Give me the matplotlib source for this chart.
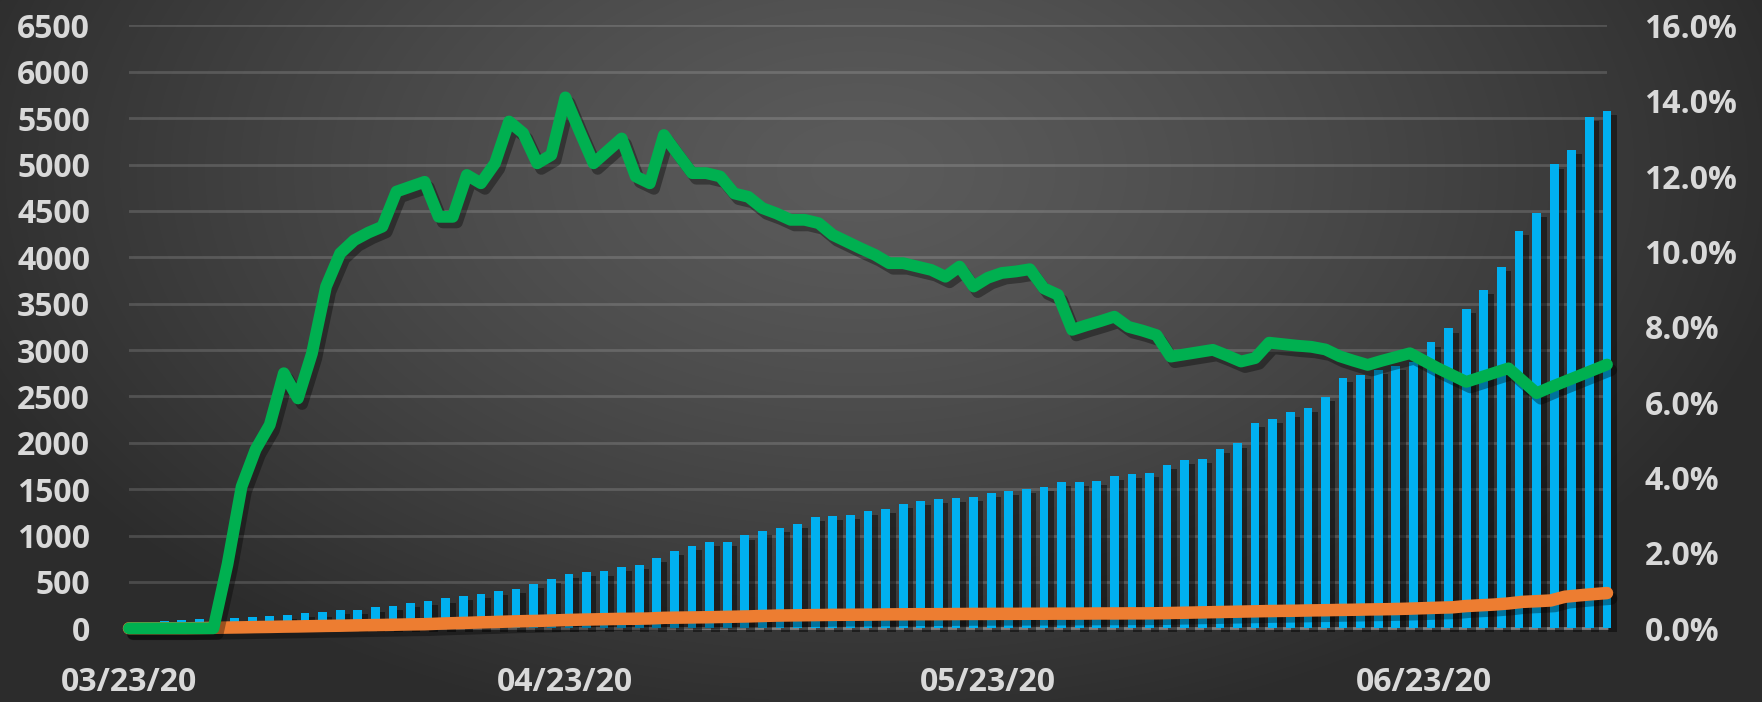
import numpy as np
import pandas as pd
import matplotlib
matplotlib.use('Agg')
import matplotlib.pyplot as plt
import matplotlib.dates as mdates
import matplotlib.patheffects as pe
from matplotlib.ticker import FuncFormatter, MultipleLocator

plt.rcParams['font.family'] = ['Open Sans', 'DejaVu Sans']
plt.rcParams['font.weight'] = 'bold'

# data
start_date = '2020-03-23'
tick_dates = ['2020-03-23', '2020-04-23', '2020-05-23', '2020-06-23']

# blue bars (left axis), 85 evenly spaced points over the same date span
bar_vals = [40, 55, 78, 89, 100, 104, 108, 122, 129, 140,
            162, 172, 194, 197, 226, 240, 276, 291, 323, 345,
            373, 405, 424, 478, 531, 589, 604, 614, 661, 679,
            758, 833, 890, 930, 930, 1002, 1049, 1081, 1124, 1203,
            1211, 1221, 1268, 1286, 1340, 1372, 1394, 1405, 1412, 1459,
            1480, 1502, 1527, 1580, 1580, 1588, 1639, 1667, 1678, 1757,
            1814, 1825, 1930, 1994, 2210, 2260, 2328, 2372, 2497, 2698,
            2731, 2790, 2830, 2874, 3083, 3234, 3442, 3647, 3895, 4283,
            4477, 5002, 5156, 5512, 5577]

# orange line (left axis), daily
orange_vals = [0, 0, 0, 0, 0, 2,
               5, 8, 10, 13, 15, 18, 20, 23, 26, 28,
               31, 34, 36, 39, 42, 44, 50, 55, 59, 64,
               68, 73, 77, 80, 84, 89, 93, 96, 99, 102,
               103, 106, 113, 115, 117, 119, 122, 125, 128, 133,
               137, 139, 141, 143, 145, 146, 147, 148, 150, 151,
               152, 152, 153, 154, 155, 155, 156, 156, 157, 157,
               158, 158, 159, 160, 160, 161, 161, 162, 165, 168,
               171, 174, 177, 180, 183, 186, 188, 190, 193, 195,
               198, 200, 203, 205, 208, 212, 217, 222, 226, 240,
               248, 256, 268, 285, 292, 300, 340, 355, 368, 380]

# green line (right axis, %), daily
green_pct = [0, 0, 0, 0, 0, 0, 0,
             1.7, 3.76, 4.75, 5.4, 6.77, 6.1, 7.3, 9.07, 9.95, 10.3,
             10.5, 10.66, 11.59, 11.72, 11.85, 10.92, 10.92, 12.03, 11.81, 12.34,
             13.45, 13.14, 12.34, 12.56, 14.09, 13.2, 12.34, 12.67, 13.0, 11.99,
             11.81, 13.09, 12.58, 12.08, 12.08, 11.99, 11.54, 11.45, 11.15, 11.01,
             10.84, 10.84, 10.75, 10.44, 10.26, 10.08, 9.91, 9.69, 9.69, 9.6,
             9.51, 9.33, 9.6, 9.07, 9.3, 9.43, 9.47, 9.53, 9.02, 8.85,
             7.92, 8.04, 8.15, 8.27, 8.0, 7.9, 7.78, 7.21, 7.27, 7.33,
             7.39, 7.24, 7.08, 7.17, 7.58, 7.54, 7.5, 7.47, 7.4, 7.22,
             7.1, 6.99, 7.1, 7.2, 7.3, 7.1, 6.9, 6.72, 6.54, 6.66,
             6.78, 6.9, 6.57, 6.24, 6.4, 6.55, 6.7, 6.85, 7.0]

dates = pd.date_range(start_date, periods=len(green_pct))
x_line = mdates.date2num(dates.to_pydatetime())
bar_x = np.linspace(x_line[0], x_line[-1], len(bar_vals))

W, H = 1762, 702
fig = plt.figure(figsize=(W / 100, H / 100), dpi=100)

# radial grey background
bg = fig.add_axes([0, 0, 1, 1], zorder=-10)
bg.axis('off')
yy, xx = np.mgrid[0:H, 0:W]
r = np.sqrt(((xx - 860) / 950) ** 2 + ((yy - 170) / 580) ** 2)
shade = (0x5b - (0x5b - 0x2c) * np.clip(r, 0, 1) ** 1.3) / 255
bg.imshow(np.dstack([shade] * 3), aspect='auto', extent=[0, 1, 0, 1])

ax = fig.add_axes([129 / W, 1 - 628.3 / H, (1607 - 129) / W, (628.3 - 25.4) / H])
ax.set_facecolor('none')

txt_col = '#d9d9d9'
line_shadow = [pe.SimpleLineShadow(offset=(3, -4), shadow_color='black', alpha=0.35), pe.Normal()]

ax.bar(bar_x, bar_vals, width=0.62, color='#00b0f0', zorder=3, clip_on=False,
       path_effects=[pe.SimplePatchShadow(offset=(4, -3), shadow_rgbFace='black', alpha=0.45), pe.Normal()])
ax.plot(x_line, orange_vals, color='#ed7d31', lw=9, solid_capstyle='round', solid_joinstyle='round',
        zorder=4, clip_on=False, path_effects=line_shadow)

ax.set_xlim(x_line[0], x_line[-1])
ax.set_ylim(0, 6500)
ax.yaxis.set_major_locator(MultipleLocator(500))
ax.grid(axis='y', color='white', alpha=0.15, lw=2)
ax.grid(axis='x', visible=False)
ax.set_axisbelow(True)
ax.set_xticks(mdates.date2num(pd.to_datetime(tick_dates).to_pydatetime()))
ax.xaxis.set_major_formatter(mdates.DateFormatter('%m/%d/%y'))
ax.tick_params(axis='x', length=0, pad=27, labelsize=23, labelcolor=txt_col)
ax.tick_params(axis='y', length=0, pad=28, labelsize=23, labelcolor=txt_col)
for s in ax.spines.values():
    s.set_visible(False)
ax.spines['bottom'].set_visible(True)
ax.spines['bottom'].set_color('#808080')
ax.spines['bottom'].set_linewidth(2)

ax2 = ax.twinx()
ax2.plot(x_line, green_pct, color='#00b050', lw=8.5, solid_capstyle='round', solid_joinstyle='round',
         clip_on=False, path_effects=line_shadow)
ax2.set_ylim(0, 16)
ax2.yaxis.set_major_locator(MultipleLocator(2))
ax2.yaxis.set_major_formatter(FuncFormatter(lambda v, p: f'{v:.1f}%'))
ax2.tick_params(axis='y', length=0, pad=27, labelsize=23, labelcolor=txt_col)
for s in ax2.spines.values():
    s.set_visible(False)

fig.savefig('out.png', dpi=100)
